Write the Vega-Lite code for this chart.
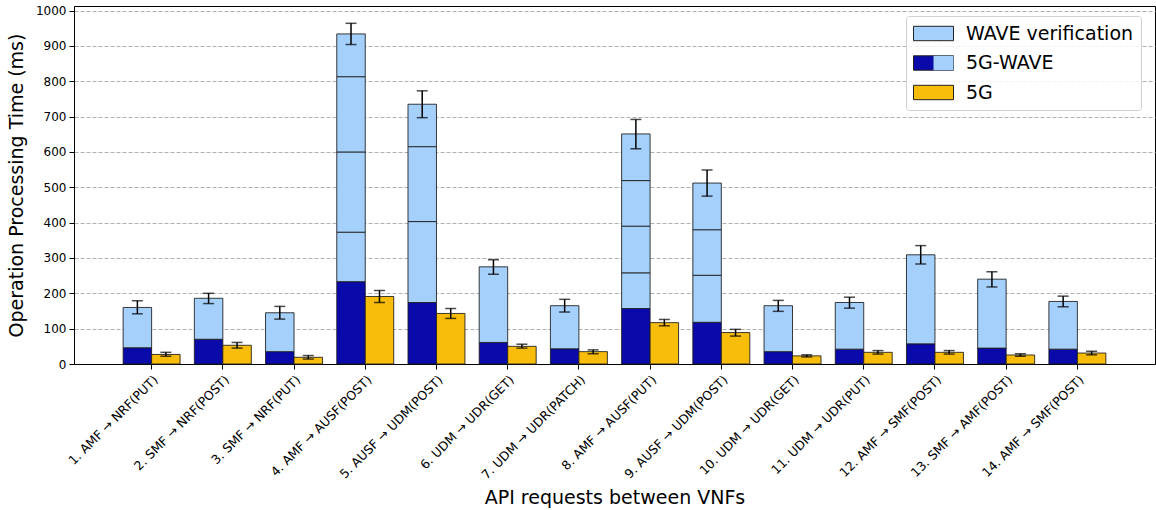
{
  "$schema": "https://vega.github.io/schema/vega-lite/v6.json",
  "width": 1081,
  "height": 358,
  "autosize": {"type": "none"},
  "padding": {"left": 74, "top": 6, "right": 1, "bottom": 146},
  "background": "white",
  "config": {
    "font": "DejaVu Sans",
    "view": {"stroke": "black", "strokeWidth": 1},
    "axis": {
      "labelFont": "DejaVu Sans", "labelFontSize": 12, "labelColor": "black",
      "titleFont": "DejaVu Sans", "titleFontSize": 19, "titleFontWeight": "normal", "titleColor": "black",
      "tickColor": "black", "tickSize": 5, "domainColor": "black",
      "gridColor": "#b0b0b0", "gridDash": [4, 2], "gridWidth": 1
    },
    "legend": {
      "title": null,
      "orient": "none",
      "legendX": 832,
      "legendY": 10,
      "padding": 7,
      "labelFont": "DejaVu Sans",
      "labelFontSize": 19,
      "labelColor": "black",
      "labelLimit": 0,
      "labelOffset": 22,
      "symbolSize": 400,
      "symbolOffset": 10,
      "rowPadding": 8.5,
      "symbolStrokeColor": "#222",
      "symbolStrokeWidth": 1
    }
  },
  "datasets": {
    "bars": [
      {"c": "1. AMF → NRF(PUT)", "g": "5G-WAVE", "p": "base", "s": 0, "v": 46},
      {"c": "1. AMF → NRF(PUT)", "g": "5G-WAVE", "p": "WAVE verification", "s": 1, "v": 114},
      {"c": "1. AMF → NRF(PUT)", "g": "5G", "p": "5G", "s": 0, "v": 27},
      {"c": "2. SMF → NRF(POST)", "g": "5G-WAVE", "p": "base", "s": 0, "v": 70},
      {"c": "2. SMF → NRF(POST)", "g": "5G-WAVE", "p": "WAVE verification", "s": 1, "v": 116},
      {"c": "2. SMF → NRF(POST)", "g": "5G", "p": "5G", "s": 0, "v": 53},
      {"c": "3. SMF → NRF(PUT)", "g": "5G-WAVE", "p": "base", "s": 0, "v": 35},
      {"c": "3. SMF → NRF(PUT)", "g": "5G-WAVE", "p": "WAVE verification", "s": 1, "v": 110},
      {"c": "3. SMF → NRF(PUT)", "g": "5G", "p": "5G", "s": 0, "v": 19},
      {"c": "4. AMF → AUSF(POST)", "g": "5G-WAVE", "p": "base", "s": 0, "v": 233},
      {"c": "4. AMF → AUSF(POST)", "g": "5G-WAVE", "p": "WAVE verification", "s": 1, "v": 140},
      {"c": "4. AMF → AUSF(POST)", "g": "5G-WAVE", "p": "WAVE verification", "s": 2, "v": 227},
      {"c": "4. AMF → AUSF(POST)", "g": "5G-WAVE", "p": "WAVE verification", "s": 3, "v": 213},
      {"c": "4. AMF → AUSF(POST)", "g": "5G-WAVE", "p": "WAVE verification", "s": 4, "v": 121},
      {"c": "4. AMF → AUSF(POST)", "g": "5G", "p": "5G", "s": 0, "v": 191},
      {"c": "5. AUSF → UDM(POST)", "g": "5G-WAVE", "p": "base", "s": 0, "v": 174},
      {"c": "5. AUSF → UDM(POST)", "g": "5G-WAVE", "p": "WAVE verification", "s": 1, "v": 229},
      {"c": "5. AUSF → UDM(POST)", "g": "5G-WAVE", "p": "WAVE verification", "s": 2, "v": 212},
      {"c": "5. AUSF → UDM(POST)", "g": "5G-WAVE", "p": "WAVE verification", "s": 3, "v": 120},
      {"c": "5. AUSF → UDM(POST)", "g": "5G", "p": "5G", "s": 0, "v": 143},
      {"c": "6. UDM → UDR(GET)", "g": "5G-WAVE", "p": "base", "s": 0, "v": 61},
      {"c": "6. UDM → UDR(GET)", "g": "5G-WAVE", "p": "WAVE verification", "s": 1, "v": 214},
      {"c": "6. UDM → UDR(GET)", "g": "5G", "p": "5G", "s": 0, "v": 50},
      {"c": "7. UDM → UDR(PATCH)", "g": "5G-WAVE", "p": "base", "s": 0, "v": 43},
      {"c": "7. UDM → UDR(PATCH)", "g": "5G-WAVE", "p": "WAVE verification", "s": 1, "v": 122},
      {"c": "7. UDM → UDR(PATCH)", "g": "5G", "p": "5G", "s": 0, "v": 35},
      {"c": "8. AMF → AUSF(PUT)", "g": "5G-WAVE", "p": "base", "s": 0, "v": 157},
      {"c": "8. AMF → AUSF(PUT)", "g": "5G-WAVE", "p": "WAVE verification", "s": 1, "v": 101},
      {"c": "8. AMF → AUSF(PUT)", "g": "5G-WAVE", "p": "WAVE verification", "s": 2, "v": 132},
      {"c": "8. AMF → AUSF(PUT)", "g": "5G-WAVE", "p": "WAVE verification", "s": 3, "v": 129},
      {"c": "8. AMF → AUSF(PUT)", "g": "5G-WAVE", "p": "WAVE verification", "s": 4, "v": 132},
      {"c": "8. AMF → AUSF(PUT)", "g": "5G", "p": "5G", "s": 0, "v": 117},
      {"c": "9. AUSF → UDM(POST)", "g": "5G-WAVE", "p": "base", "s": 0, "v": 118},
      {"c": "9. AUSF → UDM(POST)", "g": "5G-WAVE", "p": "WAVE verification", "s": 1, "v": 133},
      {"c": "9. AUSF → UDM(POST)", "g": "5G-WAVE", "p": "WAVE verification", "s": 2, "v": 129},
      {"c": "9. AUSF → UDM(POST)", "g": "5G-WAVE", "p": "WAVE verification", "s": 3, "v": 132},
      {"c": "9. AUSF → UDM(POST)", "g": "5G", "p": "5G", "s": 0, "v": 89},
      {"c": "10. UDM → UDR(GET)", "g": "5G-WAVE", "p": "base", "s": 0, "v": 35},
      {"c": "10. UDM → UDR(GET)", "g": "5G-WAVE", "p": "WAVE verification", "s": 1, "v": 130},
      {"c": "10. UDM → UDR(GET)", "g": "5G", "p": "5G", "s": 0, "v": 23},
      {"c": "11. UDM → UDR(PUT)", "g": "5G-WAVE", "p": "base", "s": 0, "v": 42},
      {"c": "11. UDM → UDR(PUT)", "g": "5G-WAVE", "p": "WAVE verification", "s": 1, "v": 132},
      {"c": "11. UDM → UDR(PUT)", "g": "5G", "p": "5G", "s": 0, "v": 33},
      {"c": "12. AMF → SMF(POST)", "g": "5G-WAVE", "p": "base", "s": 0, "v": 57},
      {"c": "12. AMF → SMF(POST)", "g": "5G-WAVE", "p": "WAVE verification", "s": 1, "v": 252},
      {"c": "12. AMF → SMF(POST)", "g": "5G", "p": "5G", "s": 0, "v": 33},
      {"c": "13. SMF → AMF(POST)", "g": "5G-WAVE", "p": "base", "s": 0, "v": 45},
      {"c": "13. SMF → AMF(POST)", "g": "5G-WAVE", "p": "WAVE verification", "s": 1, "v": 195},
      {"c": "13. SMF → AMF(POST)", "g": "5G", "p": "5G", "s": 0, "v": 25.5},
      {"c": "14. AMF → SMF(POST)", "g": "5G-WAVE", "p": "base", "s": 0, "v": 42},
      {"c": "14. AMF → SMF(POST)", "g": "5G-WAVE", "p": "WAVE verification", "s": 1, "v": 135},
      {"c": "14. AMF → SMF(POST)", "g": "5G", "p": "5G", "s": 0, "v": 31}
    ],
    "err": [
      {"c": "1. AMF → NRF(PUT)", "g": "5G-WAVE", "lo": 142, "hi": 179},
      {"c": "1. AMF → NRF(PUT)", "g": "5G", "lo": 22, "hi": 33},
      {"c": "2. SMF → NRF(POST)", "g": "5G-WAVE", "lo": 171, "hi": 200},
      {"c": "2. SMF → NRF(POST)", "g": "5G", "lo": 45, "hi": 61},
      {"c": "3. SMF → NRF(PUT)", "g": "5G-WAVE", "lo": 127, "hi": 163},
      {"c": "3. SMF → NRF(PUT)", "g": "5G", "lo": 14, "hi": 24},
      {"c": "4. AMF → AUSF(POST)", "g": "5G-WAVE", "lo": 904, "hi": 964},
      {"c": "4. AMF → AUSF(POST)", "g": "5G", "lo": 174, "hi": 208},
      {"c": "5. AUSF → UDM(POST)", "g": "5G-WAVE", "lo": 697, "hi": 773},
      {"c": "5. AUSF → UDM(POST)", "g": "5G", "lo": 129, "hi": 157},
      {"c": "6. UDM → UDR(GET)", "g": "5G-WAVE", "lo": 254, "hi": 295},
      {"c": "6. UDM → UDR(GET)", "g": "5G", "lo": 45, "hi": 56},
      {"c": "7. UDM → UDR(PATCH)", "g": "5G-WAVE", "lo": 147, "hi": 183},
      {"c": "7. UDM → UDR(PATCH)", "g": "5G", "lo": 29, "hi": 40},
      {"c": "8. AMF → AUSF(PUT)", "g": "5G-WAVE", "lo": 609, "hi": 692},
      {"c": "8. AMF → AUSF(PUT)", "g": "5G", "lo": 108, "hi": 126},
      {"c": "9. AUSF → UDM(POST)", "g": "5G-WAVE", "lo": 475, "hi": 549},
      {"c": "9. AUSF → UDM(POST)", "g": "5G", "lo": 79, "hi": 98},
      {"c": "10. UDM → UDR(GET)", "g": "5G-WAVE", "lo": 149, "hi": 180},
      {"c": "10. UDM → UDR(GET)", "g": "5G", "lo": 20, "hi": 26},
      {"c": "11. UDM → UDR(PUT)", "g": "5G-WAVE", "lo": 158, "hi": 189},
      {"c": "11. UDM → UDR(PUT)", "g": "5G", "lo": 28, "hi": 38},
      {"c": "12. AMF → SMF(POST)", "g": "5G-WAVE", "lo": 283, "hi": 335},
      {"c": "12. AMF → SMF(POST)", "g": "5G", "lo": 28, "hi": 38},
      {"c": "13. SMF → AMF(POST)", "g": "5G-WAVE", "lo": 218, "hi": 261},
      {"c": "13. SMF → AMF(POST)", "g": "5G", "lo": 22, "hi": 29},
      {"c": "14. AMF → SMF(POST)", "g": "5G-WAVE", "lo": 162, "hi": 192},
      {"c": "14. AMF → SMF(POST)", "g": "5G", "lo": 26, "hi": 36}
    ],
    "leg": [
      {"n": "WAVE verification", "k": "k1"},
      {"n": "5G-WAVE", "k": "k2"},
      {"n": "5G", "k": "k3"}
    ]
  },
  "encoding": {
    "x": {
      "field": "c", "type": "nominal",
      "scale": {
        "domain": ["1. AMF → NRF(PUT)", "2. SMF → NRF(POST)", "3. SMF → NRF(PUT)", "4. AMF → AUSF(POST)", "5. AUSF → UDM(POST)", "6. UDM → UDR(GET)", "7. UDM → UDR(PATCH)", "8. AMF → AUSF(PUT)", "9. AUSF → UDM(POST)", "10. UDM → UDR(GET)", "11. UDM → UDR(PUT)", "12. AMF → SMF(POST)", "13. SMF → AMF(POST)", "14. AMF → SMF(POST)"],
        "paddingInner": 0.2, "paddingOuter": 0.69
      },
      "axis": {"grid": false, "labelAngle": -45, "labelAlign": "right", "labelBaseline": "top", "labelPadding": 4, "labelFontSize": 12.5, "labelOverlap": false, "labelLimit": 0, "titleY": 124, "titleBaseline": "top"},
      "title": "API requests between VNFs"
    },
    "xOffset": {"field": "g", "type": "nominal", "scale": {"domain": ["5G-WAVE", "5G"], "paddingInner": 0, "paddingOuter": 0}}
  },
  "layer": [
    {
      "data": {"name": "bars"},
      "transform": [
        {"stack": "v", "groupby": ["c", "g"], "sort": [{"field": "s", "order": "ascending"}], "as": ["v0", "v1"]}
      ],
      "mark": {"type": "bar", "stroke": "#1a1a1a", "strokeWidth": 1, "strokeOpacity": 0.85},
      "encoding": {
        "y": {
          "field": "v1", "type": "quantitative",
          "scale": {"domain": [0, 1013], "nice": false},
          "axis": {"values": [0, 100, 200, 300, 400, 500, 600, 700, 800, 900, 1000], "format": "d", "labelOverlap": false, "grid": true, "labelPadding": 3, "titlePadding": 9},
          "title": "Operation Processing Time (ms)"
        },
        "y2": {"field": "v0"},
        "fill": {
          "field": "p", "type": "nominal",
          "scale": {"domain": ["base", "WAVE verification", "5G"], "range": ["#0a0aaa", "#a5d0fc", "#f8bc0b"]},
          "legend": null
        }
      }
    },
    {
      "data": {"name": "leg"},
      "mark": {"type": "bar", "opacity": 0},
      "encoding": {
        "x": null,
        "xOffset": null,
        "color": {
          "field": "n", "type": "nominal",
          "scale": {
            "domain": ["WAVE verification", "5G-WAVE", "5G"],
            "range": ["#a5d0fc", "#0a0aaa", "#f8bc0b"]
          },
          "legend": {
            "symbolType": "M-2,-0.72L2,-0.72L2,0.72L-2,0.72Z",
            "fillColor": "rgba(255,255,255,0.85)",
            "strokeColor": "#d0d0d0",
            "cornerRadius": 3
          }
        }
      }
    },
    {
      "data": {"name": "leg"},
      "mark": {"type": "point", "opacity": 0, "filled": true, "color": "#a5d0fc"},
      "encoding": {
        "x": null,
        "xOffset": null,
        "shape": {
          "field": "k", "type": "nominal",
          "scale": {
            "domain": ["k1", "k2", "k3"],
            "range": ["M0,0", "M0,-0.72L2,-0.72L2,0.72L0,0.72Z", "M0,0"]
          },
          "legend": {
            "labelExpr": "''",
            "labelOpacity": 0,
            "symbolFillColor": "#a5d0fc",
            "symbolOpacity": 1
          }
        }
      }
    },
    {
      "data": {"name": "err"},
      "mark": {"type": "rule", "color": "black", "strokeWidth": 1.5},
      "encoding": {
        "y": {"field": "hi", "type": "quantitative", "title": "Operation Processing Time (ms)", "axis": {"values": [0, 100, 200, 300, 400, 500, 600, 700, 800, 900, 1000], "format": "d", "labelOverlap": false, "grid": true, "labelPadding": 3, "titlePadding": 9}},
        "y2": {"field": "lo"}
      }
    },
    {
      "data": {"name": "err"},
      "mark": {"type": "tick", "color": "black", "thickness": 1.5, "size": 11, "orient": "horizontal"},
      "encoding": {"y": {"field": "hi", "type": "quantitative", "title": "Operation Processing Time (ms)", "axis": {"values": [0, 100, 200, 300, 400, 500, 600, 700, 800, 900, 1000], "format": "d", "labelOverlap": false, "grid": true, "labelPadding": 3, "titlePadding": 9}}}
    },
    {
      "data": {"name": "err"},
      "mark": {"type": "tick", "color": "black", "thickness": 1.5, "size": 11, "orient": "horizontal"},
      "encoding": {"y": {"field": "lo", "type": "quantitative", "title": "Operation Processing Time (ms)", "axis": {"values": [0, 100, 200, 300, 400, 500, 600, 700, 800, 900, 1000], "format": "d", "labelOverlap": false, "grid": true, "labelPadding": 3, "titlePadding": 9}}}
    }
  ]
}
